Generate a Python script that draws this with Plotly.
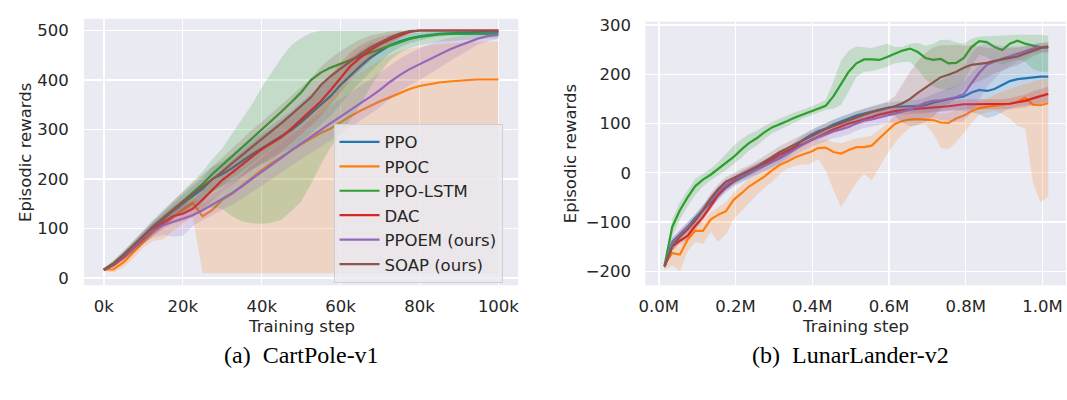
import numpy as np
import plotly.graph_objects as go

# ---------------- Left panel: CartPole-v1 ----------------
steps_L = [i * 2500 for i in range(41)]
x_ticks_L = [0, 20000, 40000, 60000, 80000, 100000]
x_ticktext_L = ["0k", "20k", "40k", "60k", "80k", "100k"]
y_ticks_L = [0, 100, 200, 300, 400, 500]

ppo_L = [17, 28, 45, 62, 80, 100, 118, 135, 150, 165, 180, 200, 210, 222, 236, 250, 262, 274, 287, 299,
         315, 332, 350, 368, 390, 410, 428, 445, 458, 470, 478, 484, 488, 491, 493, 494, 495, 496, 496, 497, 497]
ppoc_L = [17, 18, 32, 52, 74, 93, 108, 122, 138, 152, 125, 138, 158, 170, 187, 203, 218, 232, 245, 258,
          270, 282, 293, 302, 315, 327, 338, 348, 357, 365, 373, 382, 388, 392, 395, 397, 399, 400, 401, 401, 401]
lstm_L = [17, 30, 47, 65, 85, 104, 122, 138, 155, 172, 190, 210, 228, 246, 262, 282, 300, 318, 336, 355,
          375, 400, 415, 425, 433, 441, 448, 455, 462, 470, 477, 483, 487, 490, 492, 493, 493, 493, 493, 493, 493]
dac_L = [17, 27, 42, 60, 80, 98, 112, 125, 130, 140, 158, 178, 198, 213, 230, 245, 260, 272, 285, 302,
         320, 338, 357, 380, 405, 428, 445, 460, 472, 482, 490, 497, 500, 500, 500, 500, 500, 500, 500, 500, 500]
ppoem_L = [17, 28, 45, 62, 82, 97, 107, 114, 120, 127, 137, 148, 160, 172, 185, 200, 214, 228, 243, 258,
           272, 286, 299, 313, 326, 340, 353, 366, 380, 396, 410, 422, 432, 442, 452, 461, 469, 477, 484, 489, 491]
soap_L = [17, 30, 47, 65, 85, 104, 122, 138, 154, 170, 185, 200, 215, 232, 248, 265, 280, 297, 313, 330,
          347, 365, 390, 408, 423, 438, 452, 465, 476, 486, 494, 499, 500, 500, 500, 500, 500, 500, 500, 500, 500]

ppoc_lo_L = [14, 12, 22, 40, 62, 75, 78, 95, 110, 125, 10, 10, 10, 10, 10, 10, 10, 10, 10, 10,
             10, 10, 10, 10, 10, 10, 10, 10, 10, 10, 10, 10, 10, 10, 10, 10, 10, 10, 10, 10, 10]
ppoc_hi_L = [20, 25, 45, 65, 88, 108, 128, 145, 160, 165, 150, 160, 175, 190, 210, 228, 245, 260, 275, 290,
             305, 325, 345, 365, 385, 400, 415, 428, 440, 450, 458, 463, 467, 470, 472, 474, 475, 476, 477, 478, 478]
lstm_lo_L = [14, 22, 38, 55, 75, 92, 108, 120, 132, 138, 140, 142, 140, 125, 115, 111, 110, 112, 118, 135,
             155, 190, 230, 265, 290, 320, 350, 385, 415, 440, 455, 464, 470, 474, 477, 479, 481, 482, 483, 484, 485]
lstm_hi_L = [20, 36, 55, 75, 95, 115, 135, 155, 173, 195, 215, 240, 262, 292, 320, 350, 385, 415, 445, 470,
             485, 495, 500, 500, 500, 500, 500, 500, 500, 500, 500, 500, 500, 500, 500, 500, 500, 500, 500, 500, 500]
ppo_hw_L = [3, 5, 8, 10, 12, 14, 15, 15, 18, 20, 22, 25, 25, 28, 30, 30, 32, 35, 35, 38,
            40, 40, 40, 40, 38, 35, 32, 28, 22, 16, 12, 10, 8, 6, 5, 4, 4, 3, 3, 3, 3]
dac_hw_L = [3, 5, 7, 9, 11, 12, 13, 14, 15, 17, 19, 21, 23, 25, 26, 27, 28, 29, 30, 30,
            30, 30, 30, 30, 30, 28, 25, 20, 15, 10, 6, 3, 1, 1, 1, 1, 1, 1, 1, 1, 1]
ppoem_hw_L = [3, 5, 7, 9, 12, 15, 20, 30, 35, 22, 20, 21, 22, 24, 25, 26, 28, 29, 30, 31,
              32, 33, 34, 35, 35, 35, 35, 35, 35, 34, 33, 32, 32, 30, 28, 24, 20, 16, 12, 10, 8]
soap_hw_L = [3, 6, 8, 10, 12, 14, 16, 18, 20, 22, 24, 26, 28, 30, 32, 34, 35, 36, 37, 38,
             38, 38, 37, 36, 35, 33, 30, 25, 18, 12, 8, 3, 1, 1, 1, 1, 1, 1, 1, 1, 1]

# ---------------- Right panel: LunarLander-v2 ----------------
steps_R = [round(0.015 + 0.02 * i, 3) for i in range(51)]
x_ticks_R = [0.0, 0.2, 0.4, 0.6, 0.8, 1.0]
x_ticktext_R = ["0.0M", "0.2M", "0.4M", "0.6M", "0.8M", "1.0M"]
y_ticks_R = [-200, -100, 0, 100, 200, 300]

ppo_R = [-190, -140, -125, -110, -92, -76, -60, -44, -30, -18, -9, -1, 7, 15, 22, 30, 40, 54, 66, 76,
         84, 90, 98, 104, 110, 116, 120, 124, 128, 132, 134, 135, 135, 135, 137, 142, 146, 149, 152, 155,
         163, 168, 166, 170, 178, 186, 190, 192, 193, 195, 195]
ppoc_R = [-186, -163, -166, -136, -118, -118, -95, -85, -78, -55, -42, -28, -18, -8, 5, 16, 23, 31, 37, 42,
          50, 51, 42, 39, 46, 52, 52, 55, 70, 84, 99, 105, 108, 109, 108, 107, 102, 101, 110, 116,
          125, 131, 134, 136, 138, 140, 144, 152, 138, 137, 141]
lstm_R = [-188, -110, -76, -50, -27, -14, -4, 8, 20, 32, 47, 60, 70, 82, 92, 98, 105, 112, 118, 124,
          130, 136, 155, 180, 205, 222, 230, 230, 229, 235, 241, 248, 252, 245, 233, 229, 231, 222, 223, 233,
          255, 267, 265, 255, 249, 262, 268, 262, 258, 255, 256]
dac_R = [-190, -150, -138, -128, -108, -90, -68, -45, -28, -17, -6, 2, 10, 18, 27, 37, 45, 52, 58, 65,
         73, 80, 88, 94, 100, 104, 108, 113, 118, 122, 125, 127, 129, 130, 131, 132, 134, 135, 137, 139,
         139, 139, 139, 139, 139, 140, 143, 146, 151, 155, 160]
ppoem_R = [-190, -142, -125, -110, -95, -76, -55, -38, -25, -14, -7, 0, 8, 15, 21, 29, 38, 48, 57, 66,
           72, 78, 84, 88, 93, 100, 106, 108, 112, 115, 119, 124, 128, 135, 142, 146, 147, 150, 153, 160,
           182, 203, 219, 226, 232, 236, 241, 246, 252, 255, 253]
soap_R = [-190, -150, -130, -115, -97, -76, -52, -33, -18, -11, -3, 4, 12, 22, 32, 42, 50, 58, 66, 74,
          82, 89, 95, 101, 107, 112, 118, 123, 127, 130, 135, 141, 150, 162, 173, 184, 194, 199, 205, 213,
          219, 221, 223, 227, 230, 233, 236, 242, 248, 253, 256]

ppoc_lo_R = [-198, -188, -200, -160, -140, -145, -120, -140, -125, -95, -78, -62, -45, -32, -18, -3, 8, 14, 17, 18,
             28, 5, -35, -70, -45, -20, -2, -15, 10, 38, 60, 78, 92, 98, 98, 80, 50, 48, 62, 80,
             100, 118, 122, 126, 120, 110, 95, 90, -20, -60, -48]
ppoc_hi_R = [-178, -150, -150, -120, -100, -100, -80, -70, -60, -40, -25, -12, -2, 8, 20, 30, 38, 45, 52, 58,
             65, 68, 62, 60, 65, 70, 72, 75, 88, 100, 115, 120, 122, 123, 122, 122, 120, 122, 128, 132,
             140, 145, 150, 158, 165, 170, 175, 180, 185, 190, 192]
lstm_lo_R = [-195, -130, -95, -68, -45, -28, -15, -5, 5, 18, 30, 45, 55, 68, 80, 88, 95, 102, 110, 116,
             122, 128, 130, 138, 165, 195, 205, 206, 210, 215, 222, 225, 225, 210, 190, 175, 170, 168, 175, 185,
             215, 240, 235, 225, 220, 225, 230, 225, 210, 205, 205]
lstm_hi_R = [-180, -95, -60, -35, -12, -2, 8, 22, 38, 55, 68, 78, 85, 95, 103, 110, 117, 123, 128, 134,
             140, 148, 185, 228, 248, 256, 255, 253, 258, 262, 255, 255, 262, 264, 258, 262, 270, 270, 265, 262,
             272, 276, 277, 278, 279, 279, 280, 280, 280, 280, 278]
ppo_hw_R = [5, 8, 8, 9, 9, 10, 10, 10, 10, 10, 10, 10, 10, 10, 10, 10, 10, 10, 10, 10,
            10, 10, 10, 10, 10, 10, 10, 10, 10, 10, 10, 11, 12, 13, 15, 18, 20, 22, 25, 30,
            40, 50, 55, 55, 55, 55, 55, 55, 55, 55, 55]
dac_hw_R = [5, 8, 8, 8, 8, 8, 8, 8, 8, 8, 8, 8, 7, 7, 7, 7, 7, 7, 7, 7,
            7, 7, 7, 7, 7, 7, 7, 7, 7, 7, 8, 8, 9, 10, 10, 10, 10, 10, 10, 10,
            10, 10, 10, 10, 10, 11, 12, 13, 14, 15, 15]
ppoem_hw_R = [5, 10, 10, 10, 10, 10, 10, 10, 10, 10, 10, 11, 11, 12, 12, 12, 13, 13, 13, 14,
              14, 14, 14, 15, 15, 15, 15, 15, 15, 15, 16, 18, 20, 25, 30, 35, 40, 45, 50, 55,
              60, 55, 45, 35, 25, 20, 15, 12, 10, 10, 10]
soap_hw_R = [5, 10, 10, 10, 10, 10, 10, 10, 10, 10, 11, 11, 12, 12, 12, 12, 12, 12, 12, 12,
             12, 12, 12, 12, 12, 12, 12, 12, 12, 14, 20, 40, 55, 65, 70, 70, 65, 60, 55, 45,
             40, 35, 30, 25, 22, 20, 18, 15, 12, 10, 10]

names = ["PPO", "PPOC", "PPO-LSTM", "DAC", "PPOEM (ours)", "SOAP (ours)"]
colors = ["#1f77b4", "#ff7f0e", "#2ca02c", "#d62728", "#9467bd", "#8c564b"]


def rgba(hexc, a):
    h = hexc.lstrip("#")
    return "rgba(%d,%d,%d,%.2f)" % (int(h[0:2], 16), int(h[2:4], 16), int(h[4:6], 16), a)


def sym_band(mean, hw, cap=None):
    m = np.array(mean, float)
    w = np.array(hw, float)
    lo, hi = m - w, m + w
    if cap is not None:
        hi = np.minimum(hi, cap)
    return lo.tolist(), hi.tolist()


left_series = [
    (ppo_L, sym_band(ppo_L, ppo_hw_L, 500)),
    (ppoc_L, (ppoc_lo_L, ppoc_hi_L)),
    (lstm_L, (lstm_lo_L, lstm_hi_L)),
    (dac_L, sym_band(dac_L, dac_hw_L, 500)),
    (ppoem_L, sym_band(ppoem_L, ppoem_hw_L, 500)),
    (soap_L, sym_band(soap_L, soap_hw_L, 500)),
]
right_series = [
    (ppo_R, sym_band(ppo_R, ppo_hw_R)),
    (ppoc_R, (ppoc_lo_R, ppoc_hi_R)),
    (lstm_R, (lstm_lo_R, lstm_hi_R)),
    (dac_R, sym_band(dac_R, dac_hw_R)),
    (ppoem_R, sym_band(ppoem_R, ppoem_hw_R)),
    (soap_R, sym_band(soap_R, soap_hw_R)),
]

fig = go.Figure()

for panel, (xs, series, xa, ya) in enumerate([(steps_L, left_series, "x", "y"),
                                              (steps_R, right_series, "x2", "y2")]):
    for i, (mean, (lo, hi)) in enumerate(series):
        fig.add_trace(go.Scatter(
            x=list(xs), y=list(mean), mode="lines", name=names[i],
            line=dict(color=colors[i], width=2.2), xaxis=xa, yaxis=ya,
            showlegend=(panel == 0), legendgroup=names[i], hoverinfo="skip"))
        fig.add_trace(go.Scatter(
            x=list(xs) + list(xs)[::-1], y=list(hi) + list(lo)[::-1],
            mode="lines", fill="toself", fillcolor=rgba(colors[i], 0.2),
            line=dict(width=0, color=rgba(colors[i], 0)), xaxis=xa, yaxis=ya,
            showlegend=False, hoverinfo="skip"))

W, H = 1067, 400
txt = "#262626"
font_main = "DejaVu Sans"
FS = 16.5
axis_common = dict(showgrid=True, gridcolor="white", gridwidth=1.4, zeroline=False,
                   showline=False, ticks="outside", tickcolor="rgba(0,0,0,0)",
                   tickfont=dict(family=font_main, size=FS, color=txt))

fig.update_layout(
    width=W, height=H, margin=dict(l=0, r=0, t=0, b=0),
    paper_bgcolor="white", plot_bgcolor="#EAEAF2",
    xaxis=dict(domain=[77.7 / W, 515 / W], range=[-5000, 105000], tickvals=x_ticks_L,
               ticktext=x_ticktext_L, anchor="y", ticklen=6, **axis_common),
    yaxis=dict(domain=[1 - 285 / H, 1 - 13 / H], range=[-14.4, 523.7], tickvals=y_ticks_L,
               anchor="x", ticklen=11, **axis_common),
    xaxis2=dict(domain=[643.2 / W, 1.0], range=[-0.035, 1.0613], tickvals=x_ticks_R,
                ticktext=x_ticktext_R, anchor="y2", ticklen=6, **axis_common),
    yaxis2=dict(domain=[1 - 285 / H, 1 - 16 / H], range=[-228.4, 306.6], tickvals=y_ticks_R,
                anchor="x2", ticklen=10, **axis_common),
    legend=dict(x=329 / W, y=1 - 120 / H, xanchor="left", yanchor="top",
                bgcolor="rgba(234,234,242,0.8)", bordercolor="rgba(204,204,204,0.9)", borderwidth=1,
                font=dict(family=font_main, size=FS, color=txt), itemwidth=40,
                tracegroupgap=0),
    showlegend=True,
)

annots = [
    dict(text="Training step", x=296.4 / W, y=1 - 327 / H, textangle=0),
    dict(text="Training step", x=855 / W, y=1 - 327 / H, textangle=0),
    dict(text="Episodic rewards", x=18 / W, y=1 - 149 / H, textangle=-90),
    dict(text="Episodic rewards", x=568 / W, y=1 - 150.5 / H, textangle=-90),
]
for a in annots:
    fig.add_annotation(xref="paper", yref="paper", xanchor="center", yanchor="middle",
                       showarrow=False, font=dict(family=font_main, size=FS, color=txt), **a)

for text, cx in [("(a)  CartPole-v1", 296.5), ("(b)  LunarLander-v2", 850)]:
    fig.add_annotation(xref="paper", yref="paper", x=cx / W, y=1 - 356 / H, xanchor="center",
                       yanchor="middle", showarrow=False, text=text,
                       font=dict(family="Liberation Serif", size=24, color="black"))

fig.write_html("out.html", config={"displayModeBar": False, "staticPlot": True},
               post_script="document.body.style.margin='0px';"
                           "document.body.style.overflow='hidden';")
